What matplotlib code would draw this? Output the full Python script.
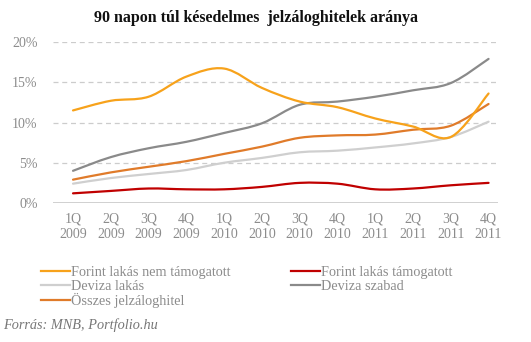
import numpy as np
import matplotlib.pyplot as plt
from matplotlib.path import Path
from matplotlib.patches import PathPatch
from matplotlib.lines import Line2D

# Adatok (negyedéves arányok, %)
quarters = ['1Q\n2009', '2Q\n2009', '3Q\n2009', '4Q\n2009',
            '1Q\n2010', '2Q\n2010', '3Q\n2010', '4Q\n2010',
            '1Q\n2011', '2Q\n2011', '3Q\n2011', '4Q\n2011']
forint_nem_tam = [11.5, 12.7, 13.2, 15.7, 16.7, 14.3, 12.6, 11.9, 10.5, 9.5, 8.2, 13.6]
forint_tam = [1.2, 1.5, 1.8, 1.7, 1.7, 2.0, 2.5, 2.4, 1.7, 1.8, 2.2, 2.5]
deviza_lakas = [2.4, 3.1, 3.6, 4.1, 5.0, 5.6, 6.3, 6.5, 6.9, 7.4, 8.2, 10.1]
deviza_szabad = [4.0, 5.7, 6.8, 7.6, 8.7, 9.9, 12.2, 12.6, 13.2, 14.0, 14.9, 17.9]
osszes = [2.9, 3.8, 4.5, 5.2, 6.1, 7.0, 8.1, 8.4, 8.5, 9.1, 9.6, 12.3]

series = [
    ('Forint lakás nem támogatott', forint_nem_tam, '#f7a21b'),
    ('Deviza lakás', deviza_lakas, '#cfcfcf'),
    ('Összes jelzáloghitel', osszes, '#e07b2a'),
    ('Forint lakás támogatott', forint_tam, '#c00000'),
    ('Deviza szabad', deviza_szabad, '#8a8a8a'),
]
draw_order = [1, 2, 4, 3, 0]

plt.rcParams['font.family'] = ['Liberation Serif', 'DejaVu Serif']
txt = '#8c8c8c'


def spline_path(xs, ys, k=1.0 / 6):
    # sima görbe Bezier-szakaszokkal
    verts = [(xs[0], ys[0])]
    codes = [Path.MOVETO]
    n = len(xs)
    for i in range(n - 1):
        x0, y0 = xs[max(i - 1, 0)], ys[max(i - 1, 0)]
        x1, y1 = xs[i], ys[i]
        x2, y2 = xs[i + 1], ys[i + 1]
        x3, y3 = xs[min(i + 2, n - 1)], ys[min(i + 2, n - 1)]
        verts += [(x1 + (x2 - x0) * k, y1 + (y2 - y0) * k),
                  (x2 - (x3 - x1) * k, y2 - (y3 - y1) * k),
                  (x2, y2)]
        codes += [Path.CURVE4] * 3
    return Path(verts, codes)


fig = plt.figure(figsize=(5.31, 3.42), dpi=100)
ax = fig.add_axes([53 / 531, 139 / 342, 445 / 531, 161 / 342])

x = np.arange(len(quarters))
for i in draw_order:
    name, vals, col = series[i]
    ax.add_patch(PathPatch(spline_path(x, vals), facecolor='none',
                           edgecolor=col, lw=1.6, capstyle='round'))

ax.set_xlim(-0.53, 11.25)
ax.set_ylim(0, 20)
ax.set_yticks([0, 5, 10, 15, 20])
ax.set_yticklabels(['0%', '5%', '10%', '15%', '20%'])
ax.set_xticks(x)
ax.set_xticklabels(quarters, linespacing=1.25)
for s in ax.spines.values():
    s.set_visible(False)
ax.axhline(0, color='#c8c8c8', lw=1.2)
for v in [5, 10, 15, 20]:
    ax.axhline(v, color='#cccccc', lw=0.9, ls=(0, (4, 3)), zorder=0)
ax.tick_params(length=0, labelsize=10, colors=txt)
ax.tick_params(axis='x', pad=7)
ax.tick_params(axis='y', pad=11)

fig.text(256 / 531, 1 - 18 / 342, '90 napon túl késedelmes  jelzáloghitelek aránya',
         ha='center', va='center', fontsize=11.5, fontweight='bold', color='#111111')

handles = [Line2D([], [], color=series[i][2], lw=1.6) for i in range(5)]
labels = [series[i][0] for i in range(5)]
fig.legend(handles, labels, ncol=2, loc='upper left',
           bbox_to_anchor=(30 / 531, 1 - 255 / 342), frameon=False,
           fontsize=10.3, labelcolor=txt, handlelength=2.0, handletextpad=0.1,
           columnspacing=4.2, labelspacing=0.02, borderpad=0.3)

fig.text(3 / 531, 1 - 325 / 342, 'Forrás: MNB, Portfolio.hu', fontsize=10.3,
         style='italic', color='#777777', va='center')

fig.savefig('out.png', dpi=100)
